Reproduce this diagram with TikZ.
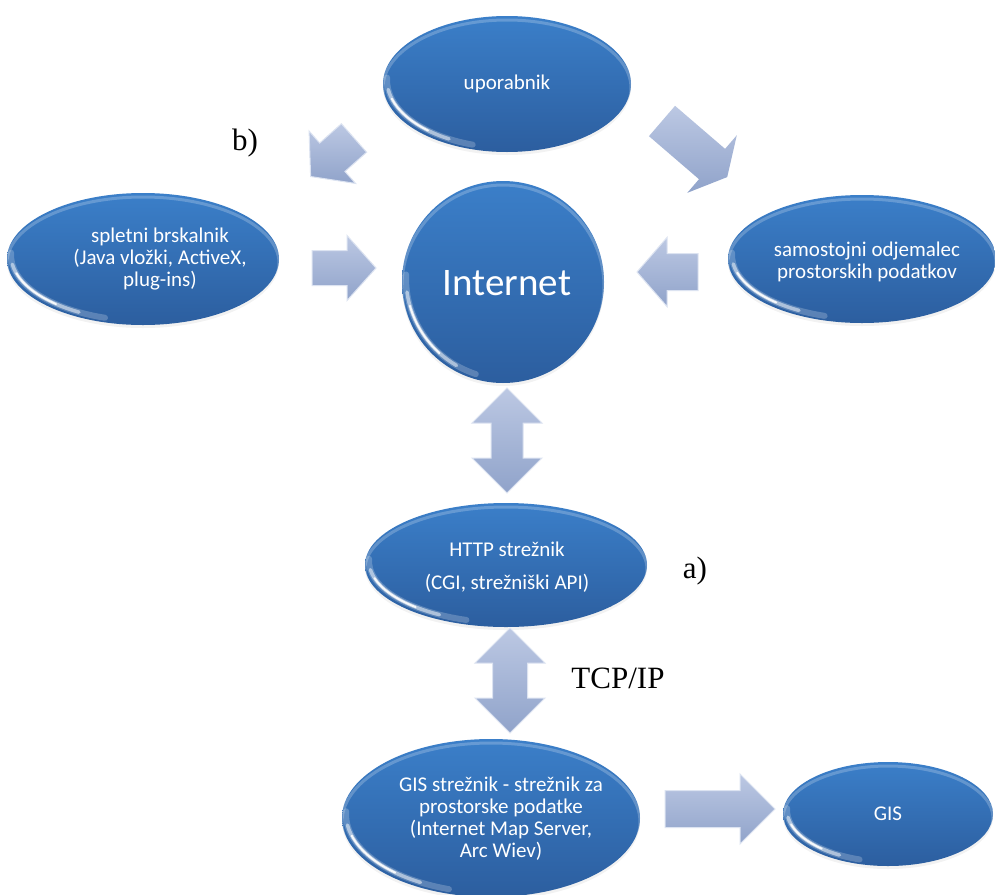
\documentclass[tikz,border=0pt]{standalone}
\usepackage{fontspec}
\setmainfont{Carlito}
\newfontfamily\labelserif{Liberation Serif}
\usetikzlibrary{shapes.geometric,shadows}

\definecolor{blobtop}{HTML}{3B7FC9}
\definecolor{blobbot}{HTML}{2C5E9F}
\definecolor{arrtop}{HTML}{BCC8E3}
\definecolor{arrbot}{HTML}{90A3CA}
\definecolor{arrline}{HTML}{DCE3F1}
\definecolor{fadetop}{HTML}{DDE5F1}
\definecolor{fadebot}{HTML}{5681BF}

\tikzset{
  % glossy blue ellipse: #1 = width, #2 = height
  blob/.style n args={2}{
    ellipse, inner sep=0pt, minimum width=#1pt, minimum height=#2pt,
    top color=blobtop, bottom color=blobbot, draw=none,
    drop shadow={opacity=0.10, shadow xshift=0pt, shadow yshift=-3pt},
    path picture={
      % soft light rim along the top
      \draw[white, opacity=0.22, line width=3pt]
        ([shift={(0,-4)}]path picture bounding box.center)
        ellipse [x radius=#1/2, y radius=#2/2];
      % gloss crescent along the lower left rim
      \draw[white, opacity=0.22, line width=6pt, line cap=round]
        ([shift={(4,4)}]path picture bounding box.center)
        ++(178:{#1/2} and {#2/2})
        arc[start angle=178, end angle=252, x radius=#1/2, y radius=#2/2];
      \draw[white, opacity=0.5, line width=3.5pt, line cap=round]
        ([shift={(4,4)}]path picture bounding box.center)
        ++(188:{#1/2} and {#2/2})
        arc[start angle=188, end angle=240, x radius=#1/2, y radius=#2/2];
      \draw[white, opacity=0.9, line width=2pt, line cap=round]
        ([shift={(4,4)}]path picture bounding box.center)
        ++(196:{#1/2} and {#2/2})
        arc[start angle=196, end angle=228, x radius=#1/2, y radius=#2/2];
    }
  },
  blobtext/.style={text=white, align=center, font=\fontsize{21}{22}\selectfont},
  lbl/.style={font=\labelserif\fontsize{31}{34}\selectfont, text=black, inner sep=0pt},
  arrowbody/.style={top color=arrtop, bottom color=arrbot, draw=arrline,
    line width=1pt, line join=miter},
  % block arrow from (0,0) to (#1,0): shaft half width #2, head half width #3, head length #4
  pics/onearrow/.style n args={4}{code={
    \path[arrowbody, pic actions]
      (0,-#2) -- ({#1-#4},-#2) -- ({#1-#4},-#3) -- (#1,0)
      -- ({#1-#4},#3) -- ({#1-#4},#2) -- (0,#2) -- cycle;
  }},
  % double-headed block arrow from (0,0) to (#1,0)
  pics/twoarrow/.style n args={4}{code={
    \path[arrowbody, pic actions]
      (0,0) -- (#4,-#3) -- (#4,-#2) -- ({#1-#4},-#2) -- ({#1-#4},-#3)
      -- (#1,0) -- ({#1-#4},#3) -- ({#1-#4},#2) -- (#4,#2) -- (#4,#3) -- cycle;
  }},
}

\begin{document}
\begin{tikzpicture}[x=1pt, y=1pt]
  \useasboundingbox[fill=white] (0,0) rectangle (995,-894);

  % nodes
  \node[blob={248}{136}] (user) at (507,-84) {};
  \node[blobtext] (usert) at (507,-84) {uporabnik};

  \node[blob={202}{202}] (internet) at (503,-282) {};
  \node[text=white, font=\fontsize{39}{42}\selectfont] (internett) at (507,-283) {Internet};

  \node[blob={272}{132}] (browser) at (143,-259) {};
  \node[blobtext] (browsert) at (160,-259) {spletni brskalnik\\(Java vložki, ActiveX,\\plug-ins)};

  \node[blob={268}{128}] (client) at (862,-259) {};
  \node[blobtext] (clientt) at (867,-262) {samostojni odjemalec\\prostorskih podatkov};

  \node[blob={282}{124}] (http) at (506,-565) {};
  \node[blobtext] (httpt) at (507,-567) {HTTP strežnik\\[11pt](CGI, strežniški API)};

  \node[blob={298}{158}] (gisserver) at (491,-818) {};
  \node[blobtext] (gisservert) at (501,-819)
    {GIS strežnik - strežnik za\\prostorske podatke\\(Internet Map Server,\\Arc Wiev)};

  \node[blob={210}{104}] (gis) at (888,-814) {};
  \node[blobtext] (gist) at (888,-814) {GIS};

  % block arrows
  \pic[rotate=221.6] at (354,-138) {onearrow={58}{19}{35}{29}};
  \pic at (312,-268) {onearrow={64}{17.5}{32.5}{29}};
  \pic[rotate=-40.7, top color=fadetop, bottom color=fadebot, draw=none]
    at (662,-121) {onearrow={86}{20}{38}{20}};
  \pic[rotate=180] at (698,-272) {onearrow={61}{18.5}{34.5}{30}};
  \pic[rotate=-90] at (507,-388) {twoarrow={105}{16}{35}{35}};
  \pic[rotate=-90] at (510,-628) {twoarrow={105}{17.5}{35}{35}};
  \pic at (665,-809) {onearrow={110}{18.5}{35}{35}};

  % labels
  \node[lbl, anchor=base] (lb) at (245,-150) {b)};
  \node[lbl, anchor=base] (la) at (695,-578) {a)};
  \node[lbl, anchor=base] (lt) at (618,-688) {TCP/IP};
\end{tikzpicture}
\end{document}
